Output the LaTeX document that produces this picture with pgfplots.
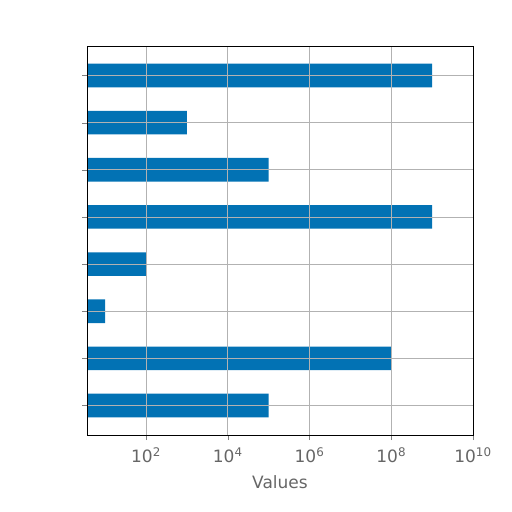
\documentclass[border=0pt]{standalone}
\usepackage{pgfplots}
\pgfplotsset{compat=1.18}
\usepackage{fontspec}
\setmainfont{DejaVu Sans}
\definecolor{barblue}{HTML}{0272B4}
\definecolor{labgray}{HTML}{666666}
\begin{document}
\begin{tikzpicture}[x=1pt,y=1pt]
  \path[use as bounding box] (0,0) rectangle (512,512);
  \begin{axis}[
      at={(87pt,77pt)}, anchor=south west,
      scale only axis,
      width=386pt, height=389pt,
      xmode=log, log origin=infty,
      xmin=3.6, xmax=1e10,
      ymin=-0.625, ymax=7.625,
      xtick={1e2,1e4,1e6,1e8,1e10},
      xticklabels={10\textsuperscript{2},10\textsuperscript{4},10\textsuperscript{6},10\textsuperscript{8},10\textsuperscript{10}},
      ytick={0,1,2,3,4,5,6,7},
      yticklabels={},
      minor xtick={},
      tick align=outside,
      tick pos=lower,
      major tick length=5pt,
      grid=major,
      grid style={line width=0.8pt, draw=black!30},
      axis line style={line width=0.9pt, black},
      ticklabel style={font=\fontsize{17}{20}\selectfont, text=labgray},
      x tick label style={yshift=-4pt},
      xlabel={Values},
      xlabel style={font=\fontsize{17}{20}\selectfont, text=labgray, yshift=-6pt},
      axis on top,
      clip=true
    ]
    \addplot[xbar, bar width=0.5, fill=barblue, draw=none]
      coordinates {(1e5,0) (1e8,1) (10,2) (100,3) (1e9,4) (1e5,5) (1e3,6) (1e9,7)};
  \end{axis}
\end{tikzpicture}
\end{document}
